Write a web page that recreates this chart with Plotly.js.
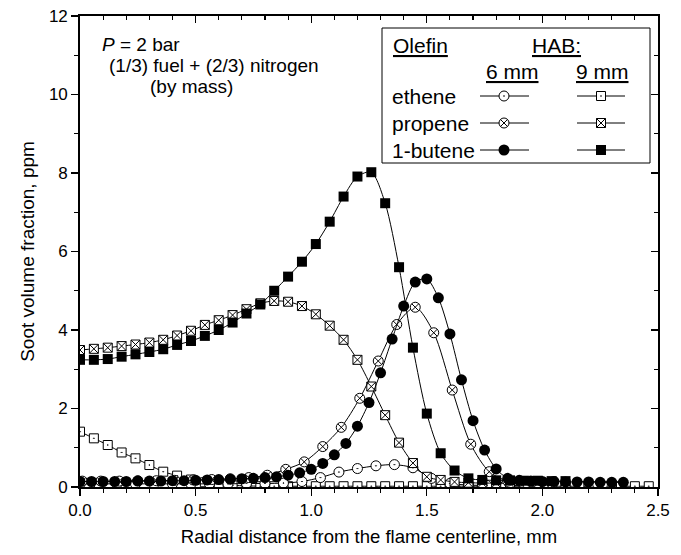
<!DOCTYPE html>
<html>
<head>
<meta charset="utf-8">
<script src="https://cdn.plot.ly/plotly-3.0.1.min.js"></script>
<style>html,body{margin:0;padding:0;background:#fff;}#chart{width:681px;height:555px;}</style>
</head>
<body>
<div id="chart"></div>
<script>
// ---------- data ----------
// 9 mm HAB, radial step 0.06 mm
var x9 = [0.00,0.06,0.12,0.18,0.24,0.30,0.36,0.42,0.48,0.54,0.60,0.66,0.72,0.78,0.84,0.90,0.96,1.02,1.08,1.14,1.20,1.26,1.32,1.38,1.44,1.50,1.56,1.62,1.68,1.74,1.80,1.86,1.92,1.98,2.04,2.10,2.16,2.22,2.28,2.34,2.40,2.46];
var ethene9 = [1.41,1.24,1.07,0.88,0.73,0.56,0.39,0.29,0.19,0.12,0.07,0.04,0.03,0.02,0.02,0.02,0.02,0.02,0.02,0.02,0.02,0.02,0.02,0.02,0.02,0.02,0.02,0.02,0.02,0.02,0.02,0.02,0.02,0.02,0.02,0.02,0.02,0.02,0.02,0.02,0.02,0.02];
var propene9 = [3.49,3.52,3.55,3.59,3.63,3.68,3.75,3.86,3.98,4.13,4.25,4.38,4.53,4.68,4.74,4.72,4.61,4.40,4.11,3.75,3.24,2.56,1.83,1.13,0.61,0.26,0.18,0.13,0.11,0.10,0.10,0.09,0.09,0.09];
var butene9 = [3.24,3.24,3.26,3.32,3.38,3.44,3.51,3.62,3.72,3.85,4.00,4.19,4.42,4.65,5.00,5.36,5.74,6.19,6.76,7.40,7.91,8.02,7.23,5.60,3.55,1.87,0.86,0.42,0.22,0.18,0.17,0.17,0.16,0.16,0.15,0.15];

// 6 mm HAB, 1-butene radial step 0.05 mm
var xButene6 = [0.00,0.05,0.10,0.15,0.20,0.25,0.30,0.35,0.40,0.45,0.50,0.55,0.60,0.65,0.70,0.75,0.80,0.85,0.90,0.95,1.00,1.05,1.10,1.15,1.20,1.25,1.30,1.35,1.40,1.45,1.50,1.55,1.60,1.65,1.70,1.75,1.80,1.85,1.90,1.95,2.00,2.05,2.10,2.15,2.20,2.25,2.30,2.35];
var butene6 = [0.14,0.14,0.14,0.14,0.14,0.15,0.15,0.15,0.16,0.16,0.17,0.18,0.19,0.20,0.21,0.22,0.24,0.26,0.30,0.36,0.45,0.60,0.82,1.11,1.55,2.15,2.91,3.77,4.61,5.22,5.30,4.82,3.90,2.73,1.69,0.94,0.46,0.22,0.17,0.15,0.14,0.14,0.13,0.13,0.13,0.12,0.12,0.12];

// 6 mm HAB, propene and ethene radial step 0.08 mm
var xPropene6 = [0.01,0.09,0.17,0.25,0.33,0.41,0.49,0.57,0.65,0.73,0.81,0.89,0.97,1.05,1.13,1.21,1.29,1.37,1.45,1.53,1.61,1.69,1.77,1.85,1.93,2.01];
var propene6 = [0.15,0.15,0.15,0.16,0.16,0.17,0.18,0.19,0.21,0.24,0.30,0.45,0.64,1.03,1.52,2.26,3.21,4.14,4.58,3.93,2.47,1.09,0.39,0.15,0.11,0.10];
var xEthene6 = [0.00,0.08,0.16,0.24,0.32,0.40,0.48,0.56,0.64,0.72,0.80,0.88,0.96,1.04,1.12,1.20,1.28,1.36,1.44,1.52,1.60,1.68,1.76,1.84,1.92,2.00];
var ethene6 = [0.08,0.08,0.08,0.08,0.08,0.08,0.08,0.08,0.08,0.09,0.09,0.10,0.14,0.24,0.38,0.47,0.54,0.57,0.49,0.22,0.09,0.05,0.04,0.04,0.04,0.04];

var olefins = ['ethene', 'propene', '1-butene'];
var habLabels = ['6 mm', '9 mm'];

// ---------- styling ----------
var FONT = 'Liberation Sans, Arial, sans-serif';
var LINE = {color: '#000', width: 1, shape: 'spline', smoothing: 0.8};
var styles = {
  ethene6:  {symbol: 'circle-dot',  size: 10, color: '#fff', line: {color: '#000', width: 1}},
  ethene9:  {symbol: 'square-dot',  size: 9,  color: '#fff', line: {color: '#000', width: 1}},
  propene6: {symbol: 'circle-x',    size: 10, color: '#fff', line: {color: '#000', width: 1}},
  propene9: {symbol: 'square-x',    size: 9,  color: '#fff', line: {color: '#000', width: 1}},
  butene6:  {symbol: 'circle',      size: 11, color: '#000', line: {color: '#000', width: 0}},
  butene9:  {symbol: 'square',      size: 10, color: '#000', line: {color: '#000', width: 0}}
};

function series(x, y, st) {
  return {x: x, y: y, type: 'scatter', mode: 'lines+markers', line: LINE,
          marker: st, showlegend: false, hoverinfo: 'skip', cliponaxis: true};
}

var traces = [
  series(x9, ethene9, styles.ethene9),
  series(xEthene6, ethene6, styles.ethene6),
  series(x9, propene9, styles.propene9),
  series(xPropene6, propene6, styles.propene6),
  series(x9, butene9, styles.butene9),
  series(xButene6, butene6, styles.butene6)
];

// ---------- hand-made legend (pixel frame on an auxiliary overlaid axis) ----------
var L = 80, R = 658, T = 16, B = 487;
var rowY = [96, 123, 150];
var colKeys = [[480, 504, 529], [577, 601, 625]];
var keyStyles = [[styles.ethene6, styles.ethene9], [styles.propene6, styles.propene9], [styles.butene6, styles.butene9]];
for (var r = 0; r < olefins.length; r++) {
  for (var c = 0; c < 2; c++) {
    var st = JSON.parse(JSON.stringify(keyStyles[r][c]));
    st.opacity = [0, 1, 0];
    traces.push({x: colKeys[c], y: [rowY[r], rowY[r], rowY[r]], xaxis: 'x3', yaxis: 'y3',
      type: 'scatter', mode: 'lines+markers', line: {color: '#000', width: 1},
      marker: st, showlegend: false, hoverinfo: 'skip', cliponaxis: false});
  }
}

var LFONT = {family: FONT, size: 21, color: '#000'};
var NFONT = {family: FONT, size: 19, color: '#000'};
var annotations = [
  {xref: 'x3', yref: 'y3', x: 391, y: 45, text: '<u>Olefin</u>', showarrow: false, xanchor: 'left', yanchor: 'middle', font: LFONT},
  {xref: 'x3', yref: 'y3', x: 530, y: 45, text: '<u>HAB:</u>', showarrow: false, xanchor: 'left', yanchor: 'middle', font: LFONT},
  {xref: 'x3', yref: 'y3', x: 512, y: 71, text: '<u>' + habLabels[0] + '</u>', showarrow: false, xanchor: 'center', yanchor: 'middle', font: LFONT},
  {xref: 'x3', yref: 'y3', x: 602, y: 71, text: '<u>' + habLabels[1] + '</u>', showarrow: false, xanchor: 'center', yanchor: 'middle', font: LFONT},
  // condition notes
  {xref: 'x3', yref: 'y3', x: 100, y: 44, text: '<i>P</i> = 2 bar', showarrow: false, xanchor: 'left', yanchor: 'middle', font: NFONT},
  {xref: 'x3', yref: 'y3', x: 107, y: 65, text: '(1/3) fuel + (2/3) nitrogen', showarrow: false, xanchor: 'left', yanchor: 'middle', font: NFONT},
  {xref: 'x3', yref: 'y3', x: 148, y: 86, text: '(by mass)', showarrow: false, xanchor: 'left', yanchor: 'middle', font: NFONT}
];
for (var i = 0; i < olefins.length; i++) {
  annotations.push({xref: 'x3', yref: 'y3', x: 390, y: rowY[i], text: olefins[i], showarrow: false,
    xanchor: 'left', yanchor: 'middle', font: LFONT});
}

var shapes = [
  {type: 'rect', xref: 'x3', yref: 'y3', x0: 382, x1: 650, y0: 28, y1: 163, line: {color: '#000', width: 1}, fillcolor: 'rgba(0,0,0,0)', layer: 'above'}
];

var tickFont = {family: FONT, size: 17, color: '#000'};
var layout = {
  width: 681, height: 555,
  margin: {l: L, r: 681 - R, t: T, b: 555 - B, pad: 0},
  paper_bgcolor: '#fff', plot_bgcolor: 'rgba(0,0,0,0)',
  font: {family: FONT, color: '#000'},
  showlegend: false,
  xaxis: {range: [0, 2.5], dtick: 0.5, tick0: 0, tickformat: '.1f', ticks: 'outside', ticklen: 7, tickwidth: 1.3,
    tickcolor: '#000', showline: true, linecolor: '#000', linewidth: 1.8, mirror: true, showgrid: false, zeroline: false,
    minor: {dtick: 0.1, ticks: 'outside', ticklen: 4, tickwidth: 1.1, tickcolor: '#000', showgrid: false},
    tickfont: tickFont, fixedrange: true,
    title: {text: 'Radial distance from the flame centerline, mm', font: {family: FONT, size: 18.5, color: '#000'}, standoff: 11}},
  yaxis: {range: [0, 12], dtick: 2, tick0: 0, ticks: 'outside', ticklen: 7, tickwidth: 1.3,
    tickcolor: '#000', showline: true, linecolor: '#000', linewidth: 1.8, mirror: true, showgrid: false, zeroline: false,
    minor: {dtick: 1, ticks: 'outside', ticklen: 4, tickwidth: 1.1, tickcolor: '#000', showgrid: false},
    tickfont: tickFont, fixedrange: true,
    title: {text: 'Soot volume fraction, ppm', font: {family: FONT, size: 19, color: '#000'}, standoff: 9}},
  xaxis2: {overlaying: 'x', side: 'top', anchor: 'y', range: [0, 2.5], dtick: 0.5, tick0: 0, ticks: 'inside', ticklen: 7, tickwidth: 1.3,
    tickcolor: '#000', showticklabels: false, showline: false, showgrid: false, zeroline: false,
    minor: {dtick: 0.1, ticks: 'inside', ticklen: 4, tickwidth: 1.1, tickcolor: '#000', showgrid: false}},
  yaxis2: {overlaying: 'y', side: 'right', anchor: 'x', range: [0, 12], dtick: 2, tick0: 0, ticks: 'inside', ticklen: 7, tickwidth: 1.3,
    tickcolor: '#000', showticklabels: false, showline: false, showgrid: false, zeroline: false,
    minor: {dtick: 1, ticks: 'inside', ticklen: 4, tickwidth: 1.1, tickcolor: '#000', showgrid: false}},
  xaxis3: {overlaying: 'x', anchor: 'y3', range: [L, R], visible: false, fixedrange: true},
  yaxis3: {overlaying: 'y', anchor: 'x3', range: [B, T], visible: false, fixedrange: true},
  annotations: annotations,
  shapes: shapes
};

// invisible helper traces so the mirrored tick axes are drawn
traces.push({x: [0], y: [0], xaxis: 'x2', yaxis: 'y', mode: 'markers', marker: {opacity: 0}, showlegend: false, hoverinfo: 'skip'});
traces.push({x: [0], y: [0], xaxis: 'x', yaxis: 'y2', mode: 'markers', marker: {opacity: 0}, showlegend: false, hoverinfo: 'skip'});

Plotly.newPlot('chart', traces, layout, {displayModeBar: false, staticPlot: true});
</script>
</body>
</html>
